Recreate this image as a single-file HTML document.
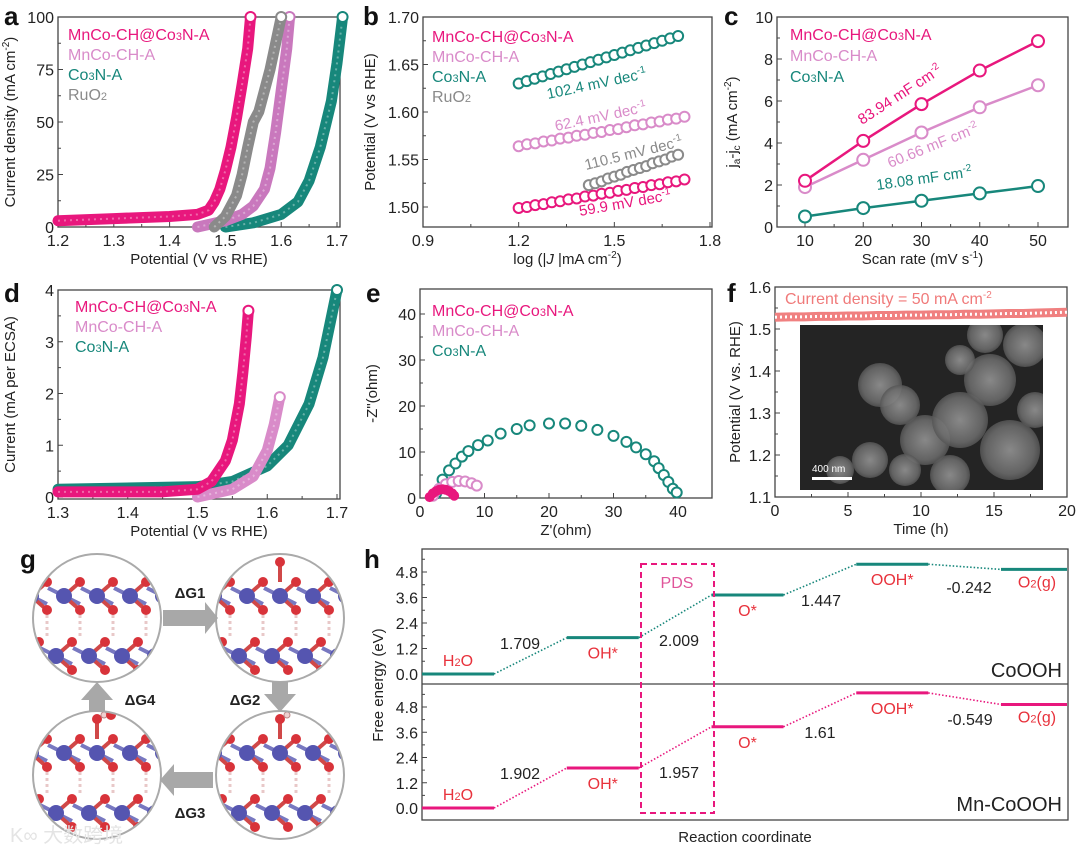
<!DOCTYPE html>
<html><head><meta charset="utf-8"><style>
html,body{margin:0;padding:0;background:#fff}
svg{display:block;font-family:"Liberation Sans","Noto Sans CJK SC",sans-serif}
</style></head><body>
<svg id="fig" width="1080" height="850" viewBox="0 0 1080 850" xmlns="http://www.w3.org/2000/svg">
<defs>
<clipPath id="c1"><circle cx="97" cy="618" r="64"/></clipPath>
<clipPath id="c2"><circle cx="280" cy="618" r="64"/></clipPath>
<clipPath id="c3"><circle cx="97" cy="775" r="64"/></clipPath>
<clipPath id="c4"><circle cx="280" cy="775" r="64"/></clipPath>
<clipPath id="cins"><rect x="800" y="325" width="243" height="165"/></clipPath>
<radialGradient id="blob"><stop offset="0" stop-color="#9a9a9a"/><stop offset="0.8" stop-color="#6e6e6e"/><stop offset="1" stop-color="#555"/></radialGradient>
</defs>
</svg>
<script>
// ---------- data ----------
const aPink=[[1.2,3],[1.3,4],[1.4,5],[1.45,6],[1.47,8],[1.48,12],[1.49,18],[1.5,27],[1.51,38],[1.52,52],[1.53,68],[1.54,85],[1.545,100]];
const aOrchid=[[1.45,0],[1.5,3],[1.53,6],[1.55,10],[1.57,18],[1.58,28],[1.59,45],[1.6,65],[1.61,85],[1.615,100]];
const aTeal=[[1.5,0],[1.55,2],[1.6,6],[1.63,12],[1.65,22],[1.67,38],[1.69,60],[1.7,78],[1.71,100]];
const aGray=[[1.48,0],[1.5,5],[1.52,15],[1.53,25],[1.54,38],[1.55,50],[1.56,55],[1.57,65],[1.58,75],[1.6,100]];
const bX=[1.2,1.225,1.25,1.275,1.3,1.325,1.35,1.375,1.4,1.425,1.45,1.475,1.5,1.525,1.55,1.575,1.6,1.625,1.65,1.675,1.7];
const bTeal=[1.630,1.6325,1.635,1.6375,1.640,1.6425,1.645,1.6475,1.650,1.6525,1.655,1.6575,1.660,1.6625,1.665,1.6675,1.670,1.6725,1.675,1.6775,1.680];
const bOrchid=[1.564,1.566,1.567,1.569,1.570,1.572,1.573,1.575,1.576,1.578,1.579,1.581,1.582,1.584,1.586,1.587,1.589,1.590,1.592,1.593,1.595];
const bPink=[1.499,1.500,1.502,1.503,1.505,1.506,1.508,1.509,1.511,1.512,1.514,1.515,1.517,1.518,1.520,1.521,1.523,1.524,1.526,1.527,1.529];
const bGrayX=[1.42,1.44,1.46,1.48,1.5,1.52,1.54,1.56,1.58,1.6,1.62,1.64,1.66,1.68,1.7];
const bGray=[1.523,1.525,1.527,1.530,1.532,1.534,1.537,1.539,1.541,1.543,1.546,1.548,1.550,1.553,1.555];
const cX=[10,20,30,40,50];
const cPink=[2.2,4.1,5.85,7.45,8.85];
const cOrchid=[1.9,3.2,4.5,5.7,6.75];
const cTeal=[0.5,0.9,1.25,1.6,1.95];
const dPink=[[1.3,0.1],[1.4,0.1],[1.45,0.1],[1.5,0.15],[1.52,0.3],[1.54,0.7],[1.55,1.1],[1.56,1.8],[1.565,2.4],[1.57,3.1],[1.573,3.6]];
const dOrchid=[[1.5,0],[1.55,0.15],[1.58,0.4],[1.6,0.9],[1.61,1.4],[1.618,1.93]];
const dTeal=[[1.3,0.15],[1.5,0.2],[1.55,0.3],[1.6,0.6],[1.63,1.0],[1.66,1.8],[1.68,2.7],[1.7,4.0]];
const eTeal=[[2.5,1],[3.5,4],[4.5,6],[5.5,7.5],[6.5,9],[7.5,10.2],[9,11.5],[10.5,12.5],[12.5,14],[15,15],[17,15.8],[20,16.2],[22.5,16.2],[25,15.7],[27.5,14.8],[30,13.5],[32,12.2],[33.5,11],[35,9.5],[36.3,8],[37,6.5],[37.8,5],[38.5,3.5],[39.2,2],[39.8,1.2]];
const eOrchid=[[2,0.5],[3,2],[4,3],[5,3.5],[6,3.7],[7,3.6],[8,3.2],[8.8,2.7]];
const ePink=[[1.5,0.2],[2,1],[2.5,1.5],[3,1.8],[3.5,1.9],[4,1.8],[4.5,1.5],[5,1],[5.3,0.5]];
const fT=[0,1,2,3,4,5,6,7,8,9,10,11,12,13,14,15,16,17,18,19,20];
const fV=[1.528,1.529,1.529,1.530,1.530,1.531,1.531,1.532,1.532,1.533,1.533,1.534,1.534,1.535,1.535,1.536,1.537,1.537,1.538,1.539,1.540];
const hSteps=['H2O','OH*','O*','OOH*','O2(g)'];
const hCo=[0,1.709,3.718,5.165,4.923];
const hMn=[0,1.902,3.859,5.469,4.920];
const hCoDelta=['1.709','2.009','1.447','-0.242'];
const hMnDelta=['1.902','1.957','1.61','-0.549'];

const PINK='#e8177d',ORCH='#d98bc9',TEAL='#17877b',GRAY='#8a8a8a',RED='#e8323c';
const NS='http://www.w3.org/2000/svg';
const svg=document.getElementById('fig');

function mk(tag,attrs,parent,name,inter){
  const el=document.createElementNS(NS,tag);
  for(const k in attrs) el.setAttribute(k,attrs[k]);
  
  
  (parent||svg).appendChild(el);
  return el;
}
function txt(x,y,s,opt,name){
  const t=mk('text',Object.assign({x:x,y:y,'font-size':15,fill:'#222'},opt||{}),opt&&opt.parent||svg,name);
  t.removeAttribute('parent');
  t.innerHTML=s;
  return t;
}
function lin(d0,d1,p0,p1){return v=>p0+(v-d0)*(p1-p0)/(d1-d0);}

function axes(id,box,xs,ys,xt,yt,xTitle,yTitle,yTitleX,minorX,minorY){
  const g=mk('g',{},svg,id+'-axes');
  mk('rect',{x:box[0],y:box[1],width:box[2]-box[0],height:box[3]-box[1],fill:'none',stroke:'#444','stroke-width':1.3},g,id+'-plot-frame');
  xt.forEach(v=>{const x=xs(v);
    mk('line',{x1:x,x2:x,y1:box[3],y2:box[3]-5,stroke:'#444'},g,id+'-x-tick');
    txt(x,box[3]+19,String(v.label||v),{'text-anchor':'middle','font-size':16,parent:g},id+'-x-tick-label');});
  (minorX||[]).forEach(v=>{const x=xs(v);mk('line',{x1:x,x2:x,y1:box[3],y2:box[3]-3,stroke:'#444'},g,id+'-x-minor-tick');});
  yt.forEach(v=>{const y=ys(v.v);
    mk('line',{x1:box[0],x2:box[0]+5,y1:y,y2:y,stroke:'#444'},g,id+'-y-tick');
    txt(box[0]-4,y+6,v.s,{'text-anchor':'end','font-size':16,parent:g},id+'-y-tick-label');});
  (minorY||[]).forEach(v=>{const y=ys(v);mk('line',{x1:box[0],x2:box[0]+3,y1:y,y2:y,stroke:'#444'},g,id+'-y-minor-tick');});
  if(xTitle) txt((box[0]+box[2])/2,box[3]+37,xTitle,{'text-anchor':'middle','font-size':15,parent:g},id+'-x-axis-title');
  if(yTitle){const cy=(box[1]+box[3])/2;
    txt(yTitleX,cy,yTitle,{'text-anchor':'middle','font-size':15,transform:`rotate(-90 ${yTitleX} ${cy})`,parent:g},id+'-y-axis-title');}
  return g;
}
function series(pts,xs,ys,col,name,r,sw,fill){
  const g=mk('g',{},svg,name);
  if(sw) mk('polyline',{points:pts.map(p=>xs(p[0])+','+ys(p[1])).join(' '),fill:'none',stroke:col,'stroke-width':sw,'stroke-linejoin':'round'},g,name+'-line');
  pts.forEach(p=>mk('circle',{cx:xs(p[0]),cy:ys(p[1]),r:r,fill:fill||'#fff',stroke:col,'stroke-width':2},g,name+'-point'));
}
function dense(pts,xs,ys,col,name){
  const g=mk('g',{},svg,name);
  mk('polyline',{points:pts.map(p=>xs(p[0])+','+ys(p[1])).join(' '),fill:'none',stroke:col,'stroke-width':11,'stroke-linejoin':'round','stroke-linecap':'round'},g,name+'-band');
  mk('polyline',{points:pts.map(p=>xs(p[0])+','+ys(p[1])).join(' '),fill:'none',stroke:'#fff','stroke-width':2,'stroke-opacity':0.35,'stroke-dasharray':'2 4'},g,name+'-texture');
  const last=pts[pts.length-1];
  mk('circle',{cx:xs(last[0]),cy:ys(last[1]),r:5,fill:'#fff',stroke:col,'stroke-width':2},g,name+'-end-point');
}
function letter(x,y,s){txt(x,y,s,{'font-size':26,'font-weight':'bold',fill:'#111'},'panel-label-'+s);}
function legend(x,y,items,fs,step){items.forEach((it,i)=>{
  txt(x,y+i*step,it[0],{'font-size':fs,fill:it[1]},'legend-entry');});}
const CO3N='Co<tspan font-size="11">3</tspan>N-A';
const RUO2='RuO<tspan font-size="11">2</tspan>';

// ---------- panel a ----------
{const B=[58,17,340,227];const xs=lin(1.2,1.7,58,337),ys=lin(0,100,227,17);
axes('a',B,xs,ys,[1.2,1.3,1.4,1.5,1.6,1.7],[0,25,50,75,100].map(v=>({v:v,s:String(v)})),'Potential (V vs RHE)','Current density (mA cm<tspan dy="-6" font-size="10">-2</tspan><tspan dy="6">)</tspan>',15,[1.25,1.35,1.45,1.55,1.65],[12.5,37.5,62.5,87.5]);
dense(aTeal,xs,ys,TEAL,'a-co3n-a-curve');dense(aOrchid,xs,ys,'#c978bd','a-mnco-ch-a-curve');dense(aGray,xs,ys,GRAY,'a-ruo2-curve');dense(aPink,xs,ys,PINK,'a-mnco-ch-co3n-a-curve');
legend(68,40,[['MnCo-CH@'+CO3N,PINK],['MnCo-CH-A',ORCH],[CO3N,TEAL],[RUO2,GRAY]],16,20);
letter(4,25,'a');}

// ---------- panel b ----------
{const B=[423,17,712,227];const xs=lin(0.9,1.8,423,710),ys=lin(1.5,1.7,207,17);
axes('b',B,xs,ys,[0.9,1.2,1.5,1.8].map(v=>({label:v.toFixed(1),valueOf(){return v}})),[1.5,1.55,1.6,1.65,1.7].map(v=>({v:v,s:v.toFixed(2)})),'log (|<tspan font-style="italic">J</tspan> |mA cm<tspan dy="-6" font-size="10">-2</tspan><tspan dy="6">)</tspan>','Potential (V vs RHE)',375,[1.05,1.35,1.65],[1.525,1.575,1.625,1.675]);
series(bX.map((x,i)=>[x,bTeal[i]]),xs,ys,TEAL,'b-co3n-a-tafel',5);
series(bX.map((x,i)=>[x*1.04-0.048,bOrchid[i]]),xs,ys,ORCH,'b-mnco-ch-a-tafel',5);
series(bGrayX.map((x,i)=>[x,bGray[i]]),xs,ys,GRAY,'b-ruo2-tafel',5);
series(bX.map((x,i)=>[x*1.04-0.048,bPink[i]]),xs,ys,PINK,'b-mnco-ch-co3n-a-tafel',5);
legend(432,42,[['MnCo-CH@'+CO3N,PINK],['MnCo-CH-A',ORCH],[CO3N,TEAL],[RUO2,GRAY]],16,20);
const sl=(x,y,s,c,a,n)=>txt(x,y,s,{fill:c,'font-size':15,transform:`rotate(${a} ${x} ${y})`},n);
sl(548,99,'102.4 mV dec<tspan dy="-6" font-size="10">-1</tspan>',TEAL,-12,'b-slope-co3n-a');
sl(556,131,'62.4 mV dec<tspan dy="-6" font-size="10">-1</tspan>',ORCH,-12,'b-slope-mnco-ch-a');
sl(586,170,'110.5 mV dec<tspan dy="-6" font-size="10">-1</tspan>',GRAY,-14,'b-slope-ruo2');
sl(580,216,'59.9 mV dec<tspan dy="-6" font-size="10">-1</tspan>',PINK,-10,'b-slope-mnco-ch-co3n-a');
letter(363,25,'b');}

// ---------- panel c ----------
{const B=[777,17,1068,227];const xs=lin(10,50,805,1038),ys=lin(0,10,227,17);
axes('c',B,xs,ys,[10,20,30,40,50],[0,2,4,6,8,10].map(v=>({v:v,s:String(v)})),'Scan rate (mV s<tspan dy="-6" font-size="10">-1</tspan><tspan dy="6">)</tspan>','j<tspan font-size="10" dy="3">a</tspan><tspan dy="-3">-j</tspan><tspan font-size="10" dy="3">c</tspan><tspan dy="-3"> (mA cm</tspan><tspan dy="-6" font-size="10">-2</tspan><tspan dy="6">)</tspan>',737,[15,25,35,45],[1,3,5,7,9]);
series(cX.map((x,i)=>[x,cTeal[i]]),xs,ys,TEAL,'c-co3n-a-line',6,2.5);
series(cX.map((x,i)=>[x,cOrchid[i]]),xs,ys,ORCH,'c-mnco-ch-a-line',6,2.5);
series(cX.map((x,i)=>[x,cPink[i]]),xs,ys,PINK,'c-mnco-ch-co3n-a-line',6,2.5);
legend(790,40,[['MnCo-CH@'+CO3N,PINK],['MnCo-CH-A',ORCH],[CO3N,TEAL]],16,21);
const sl=(x,y,s,c,a,n)=>txt(x,y,s,{fill:c,'font-size':15,transform:`rotate(${a} ${x} ${y})`},n);
sl(862,125,'83.94 mF cm<tspan dy="-6" font-size="10">-2</tspan>',PINK,-33,'c-capacitance-mnco-ch-co3n-a');
sl(890,168,'60.66 mF cm<tspan dy="-6" font-size="10">-2</tspan>',ORCH,-22,'c-capacitance-mnco-ch-a');
sl(877,190,'18.08 mF cm<tspan dy="-6" font-size="10">-2</tspan>',TEAL,-8,'c-capacitance-co3n-a');
letter(724,25,'c');}

// ---------- panel d ----------
{const B=[58,290,340,499];const xs=lin(1.3,1.7,58,337),ys=lin(0,4,497,290);
axes('d',B,xs,ys,[1.3,1.4,1.5,1.6,1.7],[0,1,2,3,4].map(v=>({v:v,s:String(v)})),'Potential (V vs RHE)','Current (mA per ECSA)',15,[1.35,1.45,1.55,1.65],[0.5,1.5,2.5,3.5]);
dense(dTeal,xs,ys,TEAL,'d-co3n-a-curve');dense(dOrchid,xs,ys,ORCH,'d-mnco-ch-a-curve');dense(dPink,xs,ys,PINK,'d-mnco-ch-co3n-a-curve');
legend(75,312,[['MnCo-CH@'+CO3N,PINK],['MnCo-CH-A',ORCH],[CO3N,TEAL]],16,20);
letter(4,302,'d');}

// ---------- panel e ----------
{const B=[420,289,712,498];const xs=lin(0,40,420,678),ys=lin(0,40,498,314);
axes('e',B,xs,ys,[0,10,20,30,40],[0,10,20,30,40].map(v=>({v:v,s:String(v)})),"Z'(ohm)",'-Z"(ohm)',377,[5,15,25,35],[5,15,25,35]);
series(eTeal,xs,ys,TEAL,'e-co3n-a-nyquist',5);
series(eOrchid,xs,ys,ORCH,'e-mnco-ch-a-nyquist',5);
series(ePink,xs,ys,PINK,'e-mnco-ch-co3n-a-nyquist',4,0,PINK);
legend(432,316,[['MnCo-CH@'+CO3N,PINK],['MnCo-CH-A',ORCH],[CO3N,TEAL]],16,20);
letter(366,302,'e');}

// ---------- panel f ----------
{const B=[775,287,1067,497];const xs=lin(0,20,775,1067),ys=lin(1.1,1.6,497,287);
axes('f',B,xs,ys,[0,5,10,15,20],[1.1,1.2,1.3,1.4,1.5,1.6].map(v=>({v:v,s:v.toFixed(1)})),'Time (h)','Potential (V vs. RHE)',740,[2.5,7.5,12.5,17.5],[1.15,1.25,1.35,1.45,1.55]);
const ins=mk('g',{'clip-path':'url(#cins)'},svg,'sem-inset-image');
mk('rect',{x:800,y:325,width:243,height:165,fill:'#242424'},ins,'sem-background');
[[880,385,22],[900,405,20],[925,440,25],[960,420,28],[990,380,26],[1010,450,30],[870,460,18],[950,475,20],[1025,345,22],[985,335,18],[1035,410,18],[840,470,14],[905,470,16],[960,360,15]].forEach(b=>mk('circle',{cx:b[0],cy:b[1],r:b[2],fill:'url(#blob)',opacity:0.85},ins,'sem-particle'));
mk('rect',{x:812,y:477,width:40,height:3,fill:'#fff'},ins,'scale-bar');
txt(812,472,'400 nm',{'font-size':10,fill:'#fff',parent:ins},'scale-bar-label');
const pts=fT.map((t,i)=>[t,fV[i]]);
const g=mk('g',{},svg,'f-stability-curve');
mk('polyline',{points:pts.map(p=>xs(p[0])+','+ys(p[1])).join(' '),fill:'none',stroke:'#f08080','stroke-width':9},g,'f-stability-band');
mk('polyline',{points:pts.map(p=>xs(p[0])+','+ys(p[1])).join(' '),fill:'none',stroke:'#fff','stroke-width':3,'stroke-dasharray':'2 3'},g,'f-stability-texture');
txt(785,304,'Current density = 50 mA cm<tspan dy="-6" font-size="10">-2</tspan>',{fill:'#f07a7a','font-size':16},'f-annotation');
letter(727,302,'f');}

// ---------- panel g ----------
{const cs=[[97,618,'c1',0],[280,618,'c2',1],[97,775,'c3',3],[280,775,'c4',2]];
cs.forEach((c,ci)=>{const g=mk('g',{'clip-path':`url(#${c[2]})`},svg,'structure-model-'+(ci+1));
  const cx=c[0],cy=c[1];
  mk('rect',{x:cx-70,y:cy-70,width:140,height:140,fill:'#fff'},g,'model-background');
  for(const row of [-22,38]){
    for(let i=-3;i<=3;i++){const x=cx+i*33+(row>0?-8:0),y=cy+row;
      mk('line',{x1:x-16,y1:y-8,x2:x+16,y2:y+8,stroke:'#7878c0','stroke-width':4},g,'bond');
      mk('line',{x1:x,y1:y,x2:x+16,y2:y-14,stroke:'#d04848','stroke-width':4},g,'bond');
      mk('line',{x1:x,y1:y,x2:x+16,y2:y+14,stroke:'#d04848','stroke-width':4},g,'bond');
      mk('circle',{cx:x+16,cy:y-14,r:5,fill:'#d8333a'},g,'oxygen-atom');
      mk('circle',{cx:x+16,cy:y+14,r:5,fill:'#d8333a'},g,'oxygen-atom');
      mk('circle',{cx:x,cy:y,r:8,fill:'#5555b0'},g,'cobalt-atom');
      if(row<0) mk('line',{x1:x+16,y1:y+19,x2:x+16,y2:y+40,stroke:'#e8c8c8','stroke-width':3,'stroke-dasharray':'3 3'},g,'hydrogen-bond');
    }}
  if(c[3]>=1){mk('line',{x1:cx,y1:cy-36,x2:cx,y2:cy-55,stroke:'#d04848','stroke-width':4},g,'adsorbate-bond');
    mk('circle',{cx:cx,cy:cy-56,r:5,fill:'#d8333a'},g,'adsorbate-oxygen');}
  if(c[3]>=2) mk('circle',{cx:cx+7,cy:cy-60,r:3,fill:'#f0d0d0',stroke:'#b88'},g,'adsorbate-hydrogen');
  if(c[3]===3){mk('circle',{cx:cx+14,cy:cy-60,r:5,fill:'#d8333a'},g,'adsorbate-oxygen');}
  mk('circle',{cx:cx,cy:cy,r:64,fill:'none',stroke:'#aaa','stroke-width':2},svg,'model-outline');
});
const ar=(pts,n)=>mk('polygon',{points:pts,fill:'#a8a8a8'},svg,n);
ar('163,610 205,610 205,602 218,618 205,634 205,626 163,626','arrow-dg1');
ar('272,682 288,682 288,694 296,694 280,712 264,694 272,694','arrow-dg2');
ar('213,772 174,772 174,764 160,780 174,796 174,788 213,788','arrow-dg3');
ar('89,712 105,712 105,700 113,700 97,682 81,700 89,700','arrow-dg4');
const bl=(x,y,s,n)=>txt(x,y,s,{'font-size':15,'font-weight':'bold',fill:'#222','text-anchor':'middle'},n);
bl(190,598,'ΔG1','label-dg1');bl(245,705,'ΔG2','label-dg2');bl(190,818,'ΔG3','label-dg3');bl(140,705,'ΔG4','label-dg4');
letter(20,568,'g');
txt(10,842,'K∞ 大数跨境',{'font-size':20,fill:'#e4e4e4'},'watermark');}

// ---------- panel h ----------
{const B=[422,549,1068,820];
const g=mk('g',{},svg,'h-axes');
mk('rect',{x:B[0],y:B[1],width:B[2]-B[0],height:B[3]-B[1],fill:'none',stroke:'#444','stroke-width':1.3},g,'h-plot-frame');
mk('line',{x1:B[0],x2:B[2],y1:684,y2:684,stroke:'#444','stroke-width':1.3},g,'h-panel-divider');
const ysT=lin(0,4.8,674,572),ysB=lin(0,4.8,808,707);
const ticks=[0,1.2,2.4,3.6,4.8];
[ysT,ysB].forEach(ys=>{ticks.forEach(v=>{const y=ys(v);
  mk('line',{x1:B[0],x2:B[0]+5,y1:y,y2:y,stroke:'#444'},g,'h-y-tick');
  txt(B[0]-4,y+6,v.toFixed(1),{'text-anchor':'end','font-size':16,parent:g},'h-y-tick-label');});
  [0.6,1.8,3.0,4.2,5.4].forEach(v=>mk('line',{x1:B[0],x2:B[0]+3,y1:ys(v),y2:ys(v),stroke:'#444'},g,'h-y-minor-tick'));});
txt(383,685,'Free energy (eV)',{'text-anchor':'middle','font-size':15,transform:'rotate(-90 383 685)'},'h-y-axis-title');
txt(745,842,'Reaction coordinate',{'text-anchor':'middle','font-size':15},'h-x-axis-title');
const xsStep=lin(0,4,422,1001),W=72;
const lblDy=[-8,21,21,21,18];
function diagram(vals,ys,col,name){
  const gg=mk('g',{},svg,name);
  vals.forEach((v,i)=>{const x=xsStep(i);
    mk('line',{x1:x,x2:Math.min(x+W,1067),y1:ys(v),y2:ys(v),stroke:col,'stroke-width':3},gg,name+'-level-'+i);
    txt(x+W/2,ys(v)+lblDy[i],hSteps[i].replace('2','<tspan font-size="11">2</tspan>'),{'text-anchor':'middle',fill:RED,'font-size':16,parent:gg},name+'-label');
    if(i<4){const x2=xsStep(i+1);
      mk('line',{x1:x+W,y1:ys(v),x2:x2,y2:ys(vals[i+1]),stroke:col,'stroke-width':1.6,'stroke-dasharray':'1.5 2'},gg,name+'-connector');}
  });
  return gg;}
diagram(hCo,ysT,TEAL,'h-cooh-diagram');
diagram(hMn,ysB,PINK,'h-mn-cooh-diagram');
const dl=(x,y,s,n)=>txt(x,y,s,{'text-anchor':'middle','font-size':16,fill:'#222'},n);
dl(520,649,hCoDelta[0],'h-cooh-delta-1');dl(679,646,hCoDelta[1],'h-cooh-delta-2');dl(821,606,hCoDelta[2],'h-cooh-delta-3');dl(969,593,hCoDelta[3],'h-cooh-delta-4');
dl(520,779,hMnDelta[0],'h-mn-delta-1');dl(679,778,hMnDelta[1],'h-mn-delta-2');dl(820,738,hMnDelta[2],'h-mn-delta-3');dl(970,725,hMnDelta[3],'h-mn-delta-4');
txt(1062,677,'CoOOH',{'text-anchor':'end','font-size':20,fill:'#222'},'h-cooh-label');
txt(1062,811,'Mn-CoOOH',{'text-anchor':'end','font-size':20,fill:'#222'},'h-mn-cooh-label');
mk('rect',{x:641,y:564,width:73,height:249,fill:'none',stroke:PINK,'stroke-width':2,'stroke-dasharray':'6 4'},svg,'pds-box');
txt(677,588,'PDS',{'text-anchor':'middle','font-size':16,fill:'#e0559a'},'pds-label');
letter(364,568,'h');}
</script>
</body></html>
